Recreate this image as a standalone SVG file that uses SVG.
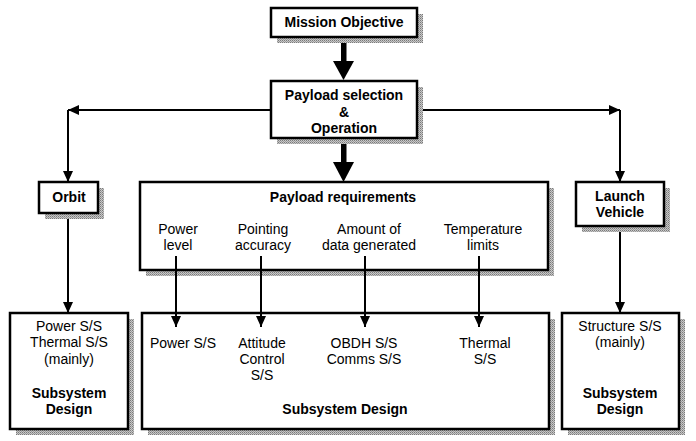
<svg xmlns="http://www.w3.org/2000/svg" width="696" height="441" viewBox="0 0 696 441">
  <defs>
    <pattern id="hatch" width="2" height="2" patternUnits="userSpaceOnUse">
      <rect width="2" height="2" fill="#c8c8c8"/>
      <rect width="1" height="1" fill="#7a7a7a"/>
      <rect x="1" y="1" width="1" height="1" fill="#9a9a9a"/>
    </pattern>
    <marker id="arr" markerUnits="userSpaceOnUse" markerWidth="12" markerHeight="10" refX="11" refY="5" orient="auto">
      <path d="M0,0 L11,5 L0,10 Z" fill="#000"/>
    </marker>
  </defs>
  <style>
    .shadow { fill: url(#hatch); }
    .box { fill: #fff; stroke: #000; stroke-width: 2.5; }
    .t { font-family: "Liberation Sans", Arial, sans-serif; font-size: 14px; fill: #000; text-anchor: middle; }
    .b { font-weight: bold; }
    .ln { stroke: #000; stroke-width: 2; fill: none; }
    .thick { fill: #000; }
  </style>
  <rect width="696" height="441" fill="#fff"/>

  <g id="connectors">
    <rect class="thick" x="341" y="37" width="5.5" height="25"/>
    <polygon class="thick" points="333,61 354,61 343.5,80"/>
    <rect class="thick" x="341" y="138" width="5.5" height="25"/>
    <polygon class="thick" points="333,162 354,162 343.5,182"/>
    <line class="ln" x1="271" y1="110" x2="68" y2="110" marker-end="url(#arr)"/>
    <line class="ln" x1="68" y1="110" x2="68" y2="182" marker-end="url(#arr)"/>
    <line class="ln" x1="417" y1="110" x2="620" y2="110" marker-end="url(#arr)"/>
    <line class="ln" x1="620" y1="110" x2="620" y2="182" marker-end="url(#arr)"/>
    <line class="ln" x1="68" y1="213" x2="68" y2="313" marker-end="url(#arr)"/>
    <line class="ln" x1="620" y1="226" x2="620" y2="313" marker-end="url(#arr)"/>
  </g>

  <g id="mission-objective">
    <rect class="shadow" x="277" y="14" width="146" height="29"/>
    <rect class="box" x="271" y="8" width="146" height="29"/>
    <text class="t b" x="344" y="27">Mission Objective</text>
  </g>

  <g id="payload-selection">
    <rect class="shadow" x="277" y="87" width="146" height="57"/>
    <rect class="box" x="271" y="81" width="146" height="57"/>
    <text class="t b" x="344" y="100">Payload selection</text>
    <text class="t b" x="344" y="117">&amp;</text>
    <text class="t b" x="344" y="133">Operation</text>
  </g>

  <g id="orbit">
    <rect class="shadow" x="45" y="188" width="59" height="31"/>
    <rect class="box" x="39" y="182" width="59" height="31"/>
    <text class="t b" x="69" y="202">Orbit</text>
  </g>

  <g id="launch-vehicle">
    <rect class="shadow" x="582" y="188" width="88" height="44"/>
    <rect class="box" x="576" y="182" width="88" height="44"/>
    <text class="t b" x="620" y="201">Launch</text>
    <text class="t b" x="620" y="217">Vehicle</text>
  </g>

  <g id="payload-requirements">
    <rect class="shadow" x="146" y="188" width="408" height="88"/>
    <rect class="box" x="140" y="182" width="408" height="88"/>
    <text class="t b" x="343" y="202">Payload requirements</text>
    <text class="t" x="178" y="234">Power</text>
    <text class="t" x="178" y="250">level</text>
    <text class="t" x="263" y="234">Pointing</text>
    <text class="t" x="263" y="250">accuracy</text>
    <text class="t" x="369" y="234">Amount of</text>
    <text class="t" x="369" y="250">data generated</text>
    <text class="t" x="483" y="234">Temperature</text>
    <text class="t" x="483" y="250">limits</text>
  </g>

  <g id="subsystem-left">
    <rect class="shadow" x="16" y="319" width="118" height="116"/>
    <rect class="box" x="10" y="313" width="118" height="116"/>
    <text class="t" x="69" y="331">Power S/S</text>
    <text class="t" x="69" y="347">Thermal S/S</text>
    <text class="t" x="69" y="364">(mainly)</text>
    <text class="t b" x="69" y="398">Subsystem</text>
    <text class="t b" x="69" y="414">Design</text>
  </g>

  <g id="subsystem-middle">
    <rect class="shadow" x="148" y="319" width="407" height="116"/>
    <rect class="box" x="142" y="313" width="407" height="116"/>
    <text class="t" x="183" y="348">Power S/S</text>
    <text class="t" x="262" y="348">Attitude</text>
    <text class="t" x="262" y="364">Control</text>
    <text class="t" x="262" y="380">S/S</text>
    <text class="t" x="364" y="348">OBDH S/S</text>
    <text class="t" x="364" y="364">Comms S/S</text>
    <text class="t" x="485" y="348">Thermal</text>
    <text class="t" x="485" y="364">S/S</text>
    <text class="t b" x="345" y="414">Subsystem Design</text>
  </g>

  <g id="subsystem-right">
    <rect class="shadow" x="568" y="319" width="117" height="116"/>
    <rect class="box" x="562" y="313" width="117" height="116"/>
    <text class="t" x="620" y="331">Structure S/S</text>
    <text class="t" x="620" y="347">(mainly)</text>
    <text class="t b" x="620" y="398">Subsystem</text>
    <text class="t b" x="620" y="414">Design</text>
  </g>

  <g id="requirement-arrows">
    <line class="ln" x1="176" y1="256" x2="176" y2="327" marker-end="url(#arr)"/>
    <line class="ln" x1="261" y1="256" x2="261" y2="327" marker-end="url(#arr)"/>
    <line class="ln" x1="365" y1="256" x2="365" y2="327" marker-end="url(#arr)"/>
    <line class="ln" x1="479" y1="256" x2="479" y2="327" marker-end="url(#arr)"/>
  </g>
</svg>
